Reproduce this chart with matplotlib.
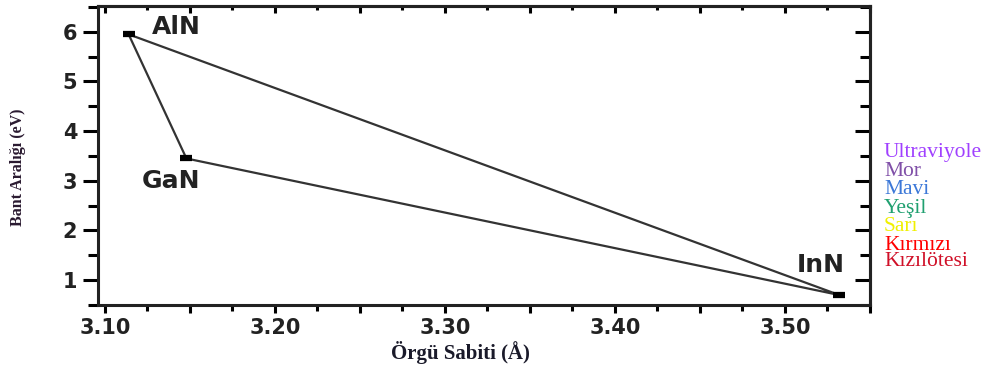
import numpy as np
import matplotlib
matplotlib.use('Agg')
import matplotlib.pyplot as plt
from matplotlib.ticker import MultipleLocator, FormatStrFormatter

# lattice constant (A) and band gap (eV)
names = ['AlN', 'GaN', 'InN']
lattice = [3.114, 3.148, 3.532]
gap = [5.95, 3.45, 0.70]

label_x = [3.1275, 3.122, 3.507]
label_y = [6.10, 3.00, 1.30]

spectrum = ['Ultraviyole', 'Mor', 'Mavi', 'Yeşil', 'Sarı', 'Kırmızı', 'Kızılötesi']
spectrum_colors = ['#a040ff', '#8050a8', '#3c78d8', '#20a070', '#f0f000', '#ff0000', '#d01028']

fig = plt.figure(figsize=(10.07, 3.70), dpi=100)
ax = fig.add_axes([98/1007, 1-305/370, (870-98)/1007, (305-6)/370])

# triangle AlN -> GaN -> InN -> AlN
order = [0, 1, 2, 0]
ax.plot([lattice[i] for i in order], [gap[i] for i in order],
        color='#333333', linewidth=1.6, zorder=2)
ax.plot(lattice, gap, linestyle='none', marker='_', markersize=9,
        markeredgewidth=4.5, color='black', zorder=3)

for n, tx, ty in zip(names, label_x, label_y):
    ax.text(tx, ty, n, fontsize=18, fontweight='bold', family='DejaVu Sans',
            color='#222222', va='center', ha='left')

ax.set_xlim(3.096, 3.550)
ax.set_ylim(0.5, 6.52)

ax.xaxis.set_major_locator(MultipleLocator(0.05))
ax.xaxis.set_minor_locator(MultipleLocator(0.025))
ax.yaxis.set_major_locator(MultipleLocator(1))
ax.yaxis.set_minor_locator(MultipleLocator(0.5))

def xfmt(v, pos):
    return '%.2f' % v if abs(round(v * 20) % 2) == 0 else ''
ax.xaxis.set_major_formatter(plt.FuncFormatter(xfmt))
ax.yaxis.set_major_formatter(FormatStrFormatter('%d'))

for lab in ax.get_xticklabels() + ax.get_yticklabels():
    lab.set_fontweight('bold')
    lab.set_family('DejaVu Sans')
    lab.set_color('#222222')

ax.tick_params(axis='x', which='major', direction='out', length=6, width=2.2, labelsize=15, pad=3)
ax.tick_params(axis='x', which='minor', direction='out', length=4, width=2.2)
ax.tick_params(axis='y', which='major', direction='out', length=11, width=2.2, labelsize=15, pad=4)
ax.tick_params(axis='y', which='minor', direction='out', length=7, width=2.2)

for s in ax.spines.values():
    s.set_linewidth(2.2)
    s.set_color('#222222')

top = ax.secondary_xaxis('top')
top.xaxis.set_major_locator(MultipleLocator(0.05))
top.xaxis.set_minor_locator(MultipleLocator(0.025))
top.tick_params(which='major', direction='in', length=5, width=2.2, labeltop=False)
top.tick_params(which='minor', direction='in', length=3, width=2.2)
top.spines['top'].set_linewidth(2.2)

right = ax.secondary_yaxis('right')
right.yaxis.set_major_locator(MultipleLocator(1))
right.yaxis.set_minor_locator(MultipleLocator(0.5))
right.tick_params(which='major', direction='in', length=11, width=2.2, labelright=False)
right.tick_params(which='minor', direction='in', length=7, width=2.2)
right.spines['right'].set_linewidth(2.2)

fig.text(18/1007, 1-167/370, 'Bant Aralığı (eV)', rotation=90, fontsize=11.5,
         fontweight='bold', family='Liberation Serif', color='#2a1a30',
         ha='center', va='center')
fig.text(460/1007, 1-353/370, 'Örgü Sabiti (Å)', fontsize=15,
         fontweight='bold', family='Liberation Serif', color='#1a1a2a',
         ha='center', va='center')

ys = [153, 172, 190, 209, 227, 245, 262]
for t, c, y in zip(spectrum, spectrum_colors, ys):
    fig.text(884/1007, 1-y/370, t, fontsize=15.5, family='Liberation Serif',
             color=c, ha='left', va='center')

fig.savefig('out.png', dpi=100)
